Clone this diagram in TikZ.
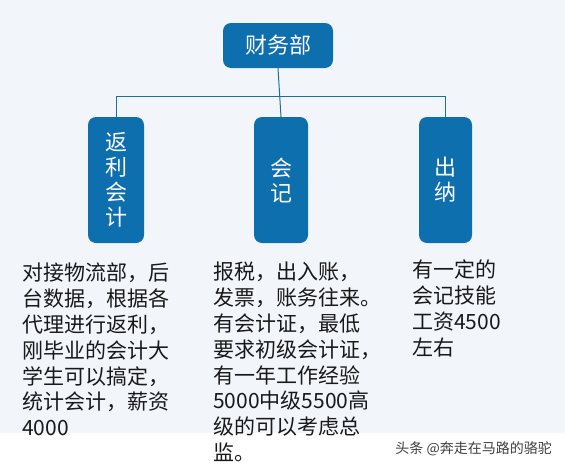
\documentclass[tikz,border=0pt]{standalone}
\usepackage{fontspec}
\setmainfont{Noto Sans CJK SC}
\usetikzlibrary{positioning}
\definecolor{deptblue}{RGB}{13,111,174}
\definecolor{linkblue}{RGB}{31,110,158}
\definecolor{paper}{RGB}{242,246,251}
\tikzset{
  dept/.style={fill=deptblue, draw=none, rounded corners=8pt, text=white,
    align=center, inner sep=0pt, font=\fontsize{22}{25}\selectfont},
  duty/.style={anchor=north west, align=left, inner sep=0pt,
    text=black!90, font=\fontsize{21}{25.8}\selectfont},
  link/.style={draw=linkblue, line width=1pt}
}
\begin{document}
\begin{tikzpicture}[x=1pt,y=-1pt]
    \useasboundingbox (0,0) rectangle (565,469);
    \fill [paper] (0,0) rectangle (565,433);
    \fill [white] (0,433) rectangle (565,469);
    % boxes
    \node [dept, minimum width=110pt, minimum height=45pt] (cw) at (278,45.5) {财务部};
    \node [dept, minimum width=56pt, minimum height=126pt] (fl) at (116,180) {返\\利\\会\\计};
    \node [dept, minimum width=54pt, minimum height=126pt] (kj) at (281,180) {会\\记};
    \node [dept, minimum width=53pt, minimum height=126pt] (cn) at (445.5,180) {出\\纳};
    % lines
    \coordinate (bus) at (0,96);
    \draw [link] (cw.south) -- (kj.north);
    \draw [link] (fl.north) -- (fl.north |- bus) -- (cn.north |- bus) -- (cn.north);
    % texts
    \node [duty] (flt) at (22,263) {对接物流部，后\\台数据，根据各\\代理进行返利，\\刚毕业的会计大\\学生可以搞定，\\统计会计，薪资\\4000};
    \node [duty] (kjt) at (213,262) {报税，出入账，\\发票，账务往来。\\有会计证，最低\\要求初级会计证，\\有一年工作经验\\5000中级5500高\\级的可以考虑总\\监。};
    \node [duty] (cnt) at (412,260) {有一定的\\会记技能\\工资4500\\左右};
    \node [anchor=east, inner sep=0pt, text=black!75, font=\fontsize{14}{16}\selectfont] (mark) at (552,449) {头条 @奔走在马路的骆驼};
\end{tikzpicture}
\end{document}
